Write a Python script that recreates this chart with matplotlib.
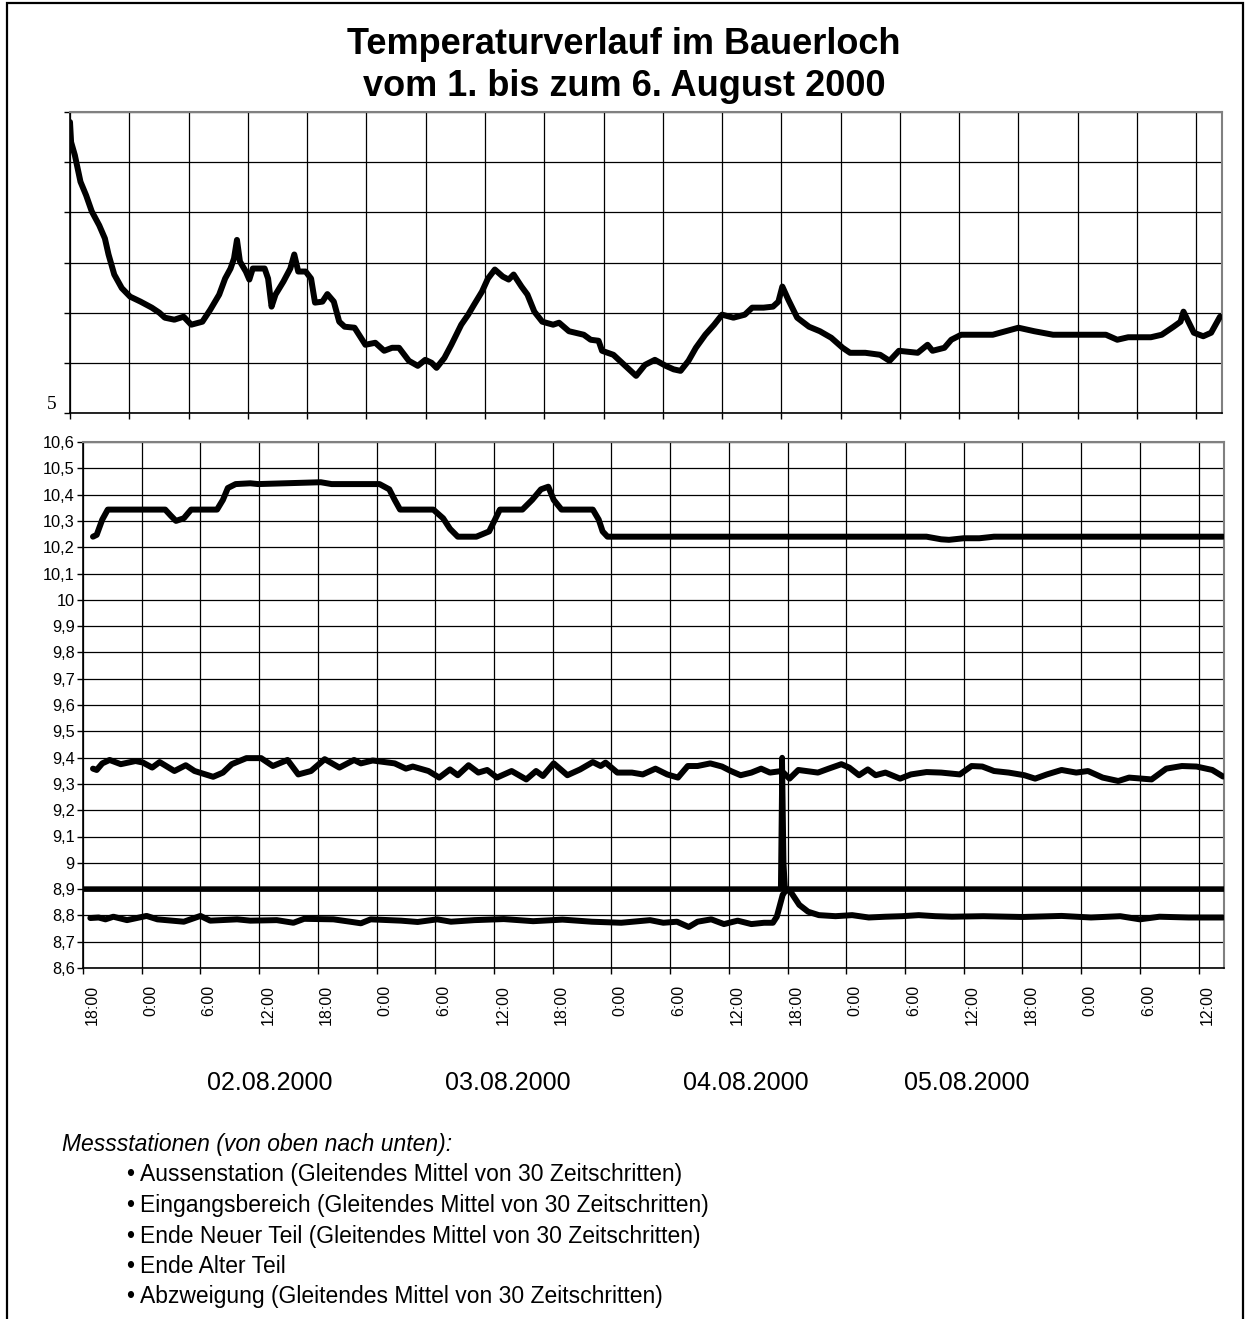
import matplotlib
matplotlib.use("Agg")
import matplotlib.pyplot as plt
import matplotlib.transforms as mtransforms
from matplotlib.patches import Rectangle
from matplotlib.ticker import FixedLocator, NullFormatter

plt.rcParams['font.family'] = ['Liberation Sans', 'DejaVu Sans']

# ---------------- DATA (hours since 01.08.2000 18:00) ----------------
aussen_t = [0.0, 0.11, 0.49, 1.06, 1.63, 2.2, 2.96, 3.53, 3.9, 4.48, 5.24, 6.08, 7.14, 8.28, 9.04,
            9.6, 10.56, 11.5, 12.27, 13.4, 14.2, 15.1, 15.7, 16.25, 16.6, 16.9, 17.2, 17.8, 18.15,
            18.5, 19.7, 20.05, 20.4, 20.8, 21.6, 22.3, 22.7, 23.1, 23.85, 24.4, 24.8, 25.55, 26.05,
            26.7, 27.25, 27.8, 28.8, 29.9, 30.9, 31.8, 32.6, 33.3, 34.3, 35.2, 35.96, 36.6, 37.1,
            37.9, 38.6, 39.6, 40.3, 40.9, 41.7, 42.3, 43.0, 43.8, 44.4, 44.9, 45.7, 46.3, 47.0,
            47.8, 48.9, 49.5, 50.5, 52.0, 52.7, 53.5, 53.85, 55.0, 56.1, 57.3, 58.2, 59.2, 60.3,
            61.1, 61.8, 62.6, 63.35, 64.3, 65.2, 66.0, 67.15, 68.3, 69.05, 70.2, 71.15, 71.7, 72.1,
            72.7, 73.6, 74.8, 75.9, 77.05, 78.2, 78.95, 80.5, 82.0, 82.95, 83.9, 85.8, 86.8, 87.3,
            88.5, 89.2, 90.2, 91.9, 93.4, 94.7, 96.0, 97.6, 99.5, 101.4, 103.3, 104.85, 106.0,
            107.1, 109.4, 110.5, 111.7, 112.4, 112.7, 113.2, 113.75, 114.7, 115.5, 116.4]
aussen_v = [34.0, 32.0, 30.7, 28.05, 26.7, 25.1, 23.7, 22.4, 20.8, 18.8, 17.45, 16.6, 16.1, 15.5, 15.0,
            14.5, 14.3, 14.6, 13.8, 14.1, 15.3, 16.8, 18.4, 19.4, 20.4, 22.25, 20.1, 19.1, 18.3,
            19.4, 19.4, 18.4, 15.6, 16.8, 18.1, 19.4, 20.8, 19.1, 19.1, 18.4, 16.0, 16.1, 16.85,
            16.1, 14.1, 13.6, 13.5, 11.8, 12.0, 11.2, 11.5, 11.5, 10.2, 9.7, 10.3, 10.0, 9.5,
            10.5, 11.8, 13.8, 14.8, 15.8, 17.1, 18.4, 19.3, 18.6, 18.3, 18.8, 17.6, 16.8, 15.1,
            14.1, 13.8, 14.0, 13.15, 12.8, 12.3, 12.2, 11.2, 10.8, 9.8, 8.7, 9.8, 10.3, 9.7,
            9.35, 9.2, 10.2, 11.5, 12.8, 13.8, 14.8, 14.5, 14.8, 15.5, 15.5, 15.6, 16.1, 17.6,
            16.3, 14.5, 13.6, 13.15, 12.5, 11.5, 11.0, 11.0, 10.8, 10.2, 11.2, 11.0, 11.8, 11.2,
            11.5, 12.3, 12.8, 12.8, 12.8, 13.15, 13.5, 13.15, 12.8, 12.8, 12.8, 12.8, 12.3,
            12.55, 12.55, 12.8, 13.6, 14.1, 15.1, 14.1, 13.0, 12.65, 13.0, 14.6]

eingang_t = [1.02, 1.4, 1.97, 2.53, 3.48, 8.4, 8.97, 9.5, 10.3, 11.05, 13.7, 14.3, 14.8, 15.6, 17.1,
             17.9, 24.3, 25.4, 30.3, 31.3, 31.85, 32.4, 35.8, 36.8, 37.5, 38.3, 40.2, 41.5, 42.1,
             42.6, 44.9, 45.9, 46.8, 47.55, 48.1, 48.9, 52.1, 52.7, 53.1, 53.6, 86.2, 87.7, 88.5,
             90.0, 91.6, 93.1, 116.5]
eingang_v = [10.24, 10.247, 10.305, 10.343, 10.343, 10.343, 10.32, 10.30, 10.31, 10.343, 10.343,
             10.38, 10.425, 10.44, 10.443, 10.44, 10.447, 10.44, 10.44, 10.42, 10.38, 10.343,
             10.343, 10.31, 10.27, 10.24, 10.24, 10.26, 10.305, 10.343, 10.343, 10.38, 10.42,
             10.43, 10.38, 10.343, 10.343, 10.305, 10.26, 10.24, 10.24, 10.23, 10.228, 10.234,
             10.234, 10.24, 10.24]

neuer_t = [1.02, 1.4, 1.97, 2.72, 3.86, 5.37, 6.13, 7.07, 7.83, 9.34, 10.5, 11.4, 13.3, 14.3, 15.2,
           16.7, 18.2, 19.4, 20.9, 22.0, 23.3, 24.7, 26.2, 27.7, 28.4, 29.6, 31.85, 33.0, 33.7,
           35.3, 36.4, 37.5, 38.3, 39.4, 40.4, 41.3, 42.3, 43.8, 45.3, 46.3, 47.0, 48.1, 49.5,
           50.8, 52.1, 52.9, 53.4, 54.6, 56.1, 57.2, 58.5, 59.7, 60.8, 61.8, 62.8, 64.1, 65.3,
           66.2, 67.2, 68.3, 69.3, 70.2, 71.4, 72.2, 73.1, 75.1, 76.2, 77.5, 78.3, 79.3, 80.2,
           81.0, 82.0, 83.5, 84.6, 86.2, 87.7, 89.6, 90.8, 91.9, 93.1, 94.6, 96.2, 97.3, 98.5,
           100.0, 101.5, 102.7, 104.2, 105.8, 106.9, 109.2, 110.7, 112.3, 113.8, 115.4, 116.5]
neuer_v = [9.358, 9.353, 9.378, 9.391, 9.375, 9.387, 9.381, 9.362, 9.383, 9.349, 9.371, 9.349,
           9.327, 9.343, 9.375, 9.398, 9.398, 9.368, 9.391, 9.336, 9.349, 9.394, 9.362, 9.391,
           9.378, 9.389, 9.378, 9.358, 9.366, 9.349, 9.324, 9.355, 9.333, 9.371, 9.343, 9.353,
           9.324, 9.349, 9.317, 9.349, 9.330, 9.378, 9.333, 9.355, 9.383, 9.368, 9.381, 9.343,
           9.343, 9.336, 9.358, 9.336, 9.324, 9.368, 9.368, 9.378, 9.366, 9.349, 9.333, 9.343,
           9.358, 9.343, 9.349, 9.320, 9.353, 9.343, 9.358, 9.375, 9.362, 9.333, 9.355, 9.333,
           9.343, 9.320, 9.336, 9.345, 9.343, 9.336, 9.368, 9.366, 9.349, 9.343, 9.333, 9.320,
           9.336, 9.353, 9.343, 9.349, 9.324, 9.311, 9.324, 9.317, 9.358, 9.368, 9.366, 9.353,
           9.328]

alter_t = [0.0, 71.3, 71.45, 71.6, 71.75, 116.6]
alter_v = [8.9, 8.9, 9.40, 9.0, 8.9, 8.9]

abzw_t = [0.75, 1.6, 2.3, 3.1, 4.5, 6.5, 7.6, 10.3, 12.0, 13.0, 15.75, 17.1, 19.8, 21.5, 22.6,
          25.6, 27.3, 28.4, 29.4, 32.5, 34.2, 36.2, 37.6, 40.0, 43.0, 46.0, 49.0, 52.0, 55.0,
          57.95, 59.3, 60.7, 61.9, 62.8, 64.2, 65.5, 66.9, 68.3, 69.6, 70.5, 70.9, 71.5, 71.9,
          72.4, 73.2, 74.1, 75.2, 76.9, 78.6, 80.3, 82.0, 83.7, 85.4, 87.1, 88.8, 92.0, 96.0,
          100.0, 103.0, 106.0, 108.0, 110.0, 113.0, 116.5]
abzw_v = [8.79, 8.792, 8.785, 8.795, 8.782, 8.798, 8.785, 8.776, 8.798, 8.78, 8.785, 8.78, 8.782,
          8.772, 8.787, 8.785, 8.776, 8.770, 8.785, 8.78, 8.775, 8.785, 8.776, 8.782, 8.786,
          8.778, 8.784, 8.776, 8.772, 8.782, 8.772, 8.776, 8.756, 8.776, 8.785, 8.767, 8.78,
          8.767, 8.772, 8.772, 8.795, 8.878, 8.9, 8.885, 8.84, 8.814, 8.801, 8.797, 8.801,
          8.792, 8.795, 8.797, 8.801, 8.797, 8.795, 8.797, 8.794, 8.798, 8.792, 8.797, 8.785,
          8.795, 8.792, 8.792]

time_tick_labels = ["18:00", "0:00", "6:00", "12:00"] * 5
date_labels = ["02.08.2000", "03.08.2000", "04.08.2000", "05.08.2000"]
date_label_hours = [19.1, 43.4, 67.7, 90.3]

title_lines = ["Temperaturverlauf im Bauerloch", "vom 1. bis zum 6. August 2000"]
legend_head = "Messstationen (von oben nach unten):"
legend_items = ["Aussenstation (Gleitendes Mittel von 30 Zeitschritten)",
                "Eingangsbereich (Gleitendes Mittel von 30 Zeitschritten)",
                "Ende Neuer Teil (Gleitendes Mittel von 30 Zeitschritten)",
                "Ende Alter Teil",
                "Abzweigung (Gleitendes Mittel von 30 Zeitschritten)"]

# ---------------- FIGURE ----------------
W, H = 1248, 1319
fig = plt.figure(figsize=(W / 100, H / 100), dpi=100)
fig.patch.set_facecolor("white")


def fx(px):
    return px / W


def fy(py):
    return 1 - py / H


# outer frame
fig.patches.append(Rectangle((fx(7), fy(1330)), fx(1243) - fx(7), fy(3) - fy(1330),
                             transform=fig.transFigure, fill=False, edgecolor="black",
                             linewidth=1.6, zorder=0))

XMAX = 116.6
grid_x = list(range(0, 115, 6))

# ---- upper panel ----
ax1 = fig.add_axes([fx(70), fy(413), fx(1222) - fx(70), fy(112) - fy(413)])
ax1.set_xlim(0, XMAX)
ax1.set_ylim(5, 35)
ax1.xaxis.set_major_locator(FixedLocator(grid_x))
ax1.yaxis.set_major_locator(FixedLocator([5, 10, 15, 20, 25, 30, 35]))
ax1.xaxis.set_major_formatter(NullFormatter())
ax1.yaxis.set_major_formatter(NullFormatter())
ax1.grid(True, color="black", linewidth=0.9)
ax1.set_axisbelow(True)
ax1.tick_params(direction="out", length=4, width=1, color="black")
ax1.plot(aussen_t, aussen_v, color="black", linewidth=4.3, solid_joinstyle="round",
         solid_capstyle="round", zorder=3)
ax1.text(-0.012, 5, "5", transform=mtransforms.blended_transform_factory(ax1.transAxes, ax1.transData),
         ha="right", va="bottom", fontsize=14, family=["Liberation Serif", "DejaVu Serif"])

# ---- lower panel ----
ax2 = fig.add_axes([fx(83), fy(968), fx(1224) - fx(83), fy(442) - fy(968)])
ax2.set_xlim(0, XMAX)
ax2.set_ylim(8.6, 10.6)
yt = [round(8.6 + 0.1 * i, 1) for i in range(21)]
ax2.yaxis.set_major_locator(FixedLocator(yt))


def fmt(v):
    s = f"{v:.1f}".replace(".", ",")
    return s[:-2] if s.endswith(",0") else s


ax2.set_yticklabels([fmt(v) for v in yt], fontsize=11.8)
ax2.xaxis.set_major_locator(FixedLocator(grid_x))
ax2.xaxis.set_major_formatter(NullFormatter())
ax2.xaxis.set_minor_locator(FixedLocator([g + 0.9 for g in grid_x]))
ax2.set_xticklabels(time_tick_labels, minor=True, rotation=90, fontsize=11.5, va="top")
ax2.tick_params(axis="x", which="minor", length=0, pad=12)
ax2.tick_params(axis="both", which="major", direction="out", length=4, width=1, color="black")
ax2.tick_params(axis="y", pad=2)
ax2.grid(True, which="major", color="black", linewidth=0.9)
ax2.set_axisbelow(True)

for tt, vv, lw in [(eingang_t, eingang_v, 4.3), (neuer_t, neuer_v, 4.3),
                   (alter_t, alter_v, 4.0), (abzw_t, abzw_v, 4.3)]:
    ax2.plot(tt, vv, color="black", linewidth=lw, solid_joinstyle="round",
             solid_capstyle="round", zorder=3)

blend2 = mtransforms.blended_transform_factory(ax2.transData, ax2.transAxes)
for lab, h in zip(date_labels, date_label_hours):
    ax2.text(h, -0.219, lab, transform=blend2, ha="center", va="center", fontsize=18)

for ax in (ax1, ax2):
    ax.spines["left"].set_color("black")
    ax.spines["bottom"].set_color("black")
    ax.spines["left"].set_linewidth(1.2)
    ax.spines["bottom"].set_linewidth(1.2)
    ax.spines["top"].set_color("#808080")
    ax.spines["right"].set_color("#808080")
    ax.spines["top"].set_linewidth(1.5)
    ax.spines["right"].set_linewidth(1.5)

# ---- title ----
fig.text(0.5, fy(45), title_lines[0], ha="center", va="center", fontsize=26, fontweight="bold")
fig.text(0.5, fy(86), title_lines[1], ha="center", va="center", fontsize=26, fontweight="bold")

# ---- legend text ----
fig.text(fx(62), fy(1145), legend_head, ha="left", va="center", fontsize=16.5, style="italic")
for i, item in enumerate(legend_items):
    y = fy(1175 + i * 30.5)
    fig.text(fx(130), y, "\u2022", ha="center", va="center", fontsize=16.5)
    fig.text(fx(140), y, item, ha="left", va="center", fontsize=16.5)

fig.savefig("out.png", dpi=100, facecolor="white")
